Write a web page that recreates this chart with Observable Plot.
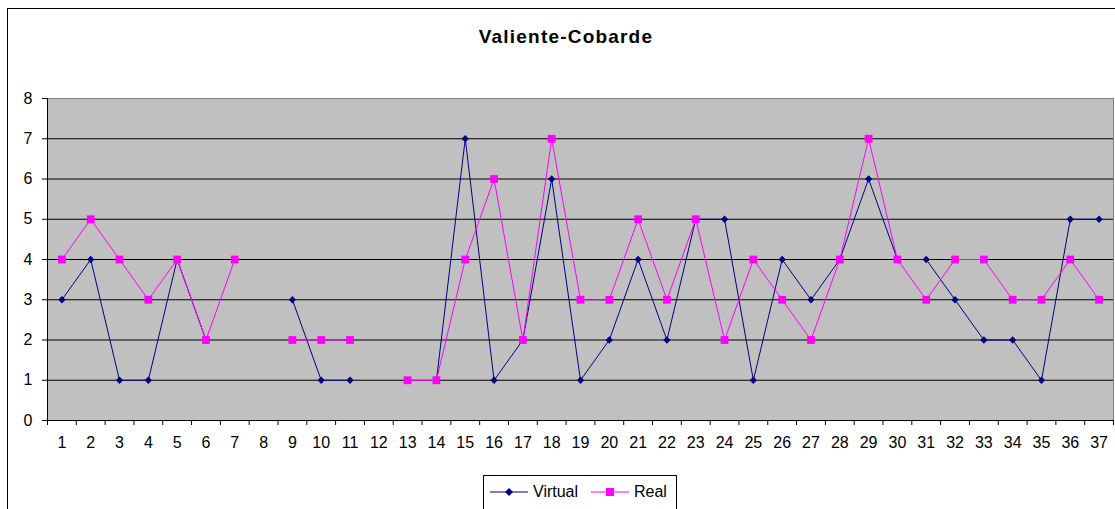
<!DOCTYPE html>
<html>
<head>
<meta charset="utf-8">
<script src="https://cdn.jsdelivr.net/npm/d3@7"></script>
<script src="https://cdn.jsdelivr.net/npm/@observablehq/plot@0.6"></script>
<style>
  html, body { margin: 0; padding: 0; background: #fff; overflow: hidden; }
  body { width: 1115px; height: 509px; position: relative; font-family: "Liberation Sans", Arial, sans-serif; color: #000; }
  #border { position: absolute; left: 7px; top: 8px; width: 1200px; height: 600px; border: 1px solid #000; box-sizing: border-box; pointer-events: none; }
  #title { width: 1132px; height: 68px; box-sizing: border-box; padding-top: 27px; text-align: center; font-size: 19px; line-height: 19px; font-weight: bold; letter-spacing: 1.2px; }
  #chart { height: 402px; }
  #legend { position: absolute; left: 483px; top: 475px; width: 194px; height: 60px; border: 1px solid #000; box-sizing: border-box; background: #fff; font-size: 16px; }
  .item { position: absolute; top: 6px; height: 20px; display: flex; align-items: center; }
  .item svg { display: block; margin-right: 5px; }
</style>
</head>
<body>
<div id="border"></div>
<div id="title">Valiente-Cobarde</div>
<div id="chart"></div>
<div id="legend"></div>
<script>
// ---- data ----
const categories = [1,2,3,4,5,6,7,8,9,10,11,12,13,14,15,16,17,18,19,20,21,22,23,24,25,26,27,28,29,30,31,32,33,34,35,36,37];
const virtualValues = [3,4,1,1,4,2,null,null,3,1,1,null,null,1,7,1,2,6,1,2,4,2,5,5,1,4,3,4,6,4,4,3,2,2,1,5,5];
const realValues    = [4,5,4,3,4,2,4,null,2,2,2,null,1,1,4,6,2,7,3,3,5,3,5,2,4,3,2,4,7,4,3,4,4,3,3,4,3];
const yTicks = [0,1,2,3,4,5,6,7,8];
const seriesNames = ["Virtual", "Real"];
const seriesColors = ["#000080", "#ff00ff"];

const virtualData = categories.map((c, i) => ({x: c, y: virtualValues[i] == null ? NaN : virtualValues[i]}));
const realData = categories.map((c, i) => ({x: c, y: realValues[i] == null ? NaN : realValues[i]}));
const boundaries = categories.map(c => c - 0.5).concat([categories[categories.length - 1] + 0.5]);
const inner = yTicks.slice(1, -1);

const chart = Plot.plot({
  width: 1115,
  height: 402,
  marginLeft: 47,
  marginRight: 2,
  marginTop: 30,
  marginBottom: 50,
  style: {fontFamily: "'Liberation Sans', Arial, sans-serif", fontSize: "16px", background: "transparent", color: "#000", overflow: "visible"},
  x: {domain: [boundaries[0], boundaries[boundaries.length - 1]]},
  y: {domain: [yTicks[0], yTicks[yTicks.length - 1]]},
  marks: [
    Plot.frame({fill: "#c0c0c0", stroke: "#808080"}),
    Plot.ruleY(inner, {stroke: "#000", strokeWidth: 1}),
    Plot.frame({anchor: "left", stroke: "#000"}),
    Plot.frame({anchor: "bottom", stroke: "#000"}),
    Plot.axisY({ticks: yTicks, tickSize: 5, tickPadding: 10, fontSize: 16, tickFormat: d => String(d), label: null, stroke: "#000"}),
    Plot.axisX({ticks: boundaries, tickSize: 5, tickFormat: () => "", label: null, stroke: "#000"}),
    Plot.axisX({ticks: categories, tickSize: 0, tickPadding: 16, fontSize: 16, tickFormat: d => String(d), label: null}),
    Plot.line(virtualData, {x: "x", y: "y", stroke: seriesColors[0], strokeWidth: 1}),
    Plot.dot(virtualData, {x: "x", y: "y", symbol: "diamond2", r: 3.3, fill: seriesColors[0], stroke: "none"}),
    Plot.line(realData, {x: "x", y: "y", stroke: seriesColors[1], strokeWidth: 1}),
    Plot.dot(realData, {x: "x", y: "y", symbol: "square", r: 4.4, fill: seriesColors[1], stroke: "none"})
  ]
});
document.getElementById("chart").appendChild(chart);

// ---- legend ----
const legend = document.getElementById("legend");
const lefts = [6, 107];
seriesNames.forEach((name, i) => {
  const item = document.createElement("div");
  item.className = "item";
  item.style.left = lefts[i] + "px";
  const marker = i === 0
    ? `<path d="M19,6 L23,10 L19,14 L15,10 Z" fill="${seriesColors[i]}"/>`
    : `<rect x="15" y="6" width="8" height="8" fill="${seriesColors[i]}"/>`;
  item.innerHTML = `<svg width="38" height="20"><line x1="0" y1="10" x2="38" y2="10" stroke="${seriesColors[i]}" stroke-width="1"/>${marker}</svg><span>${name}</span>`;
  legend.appendChild(item);
});
</script>
</body>
</html>
